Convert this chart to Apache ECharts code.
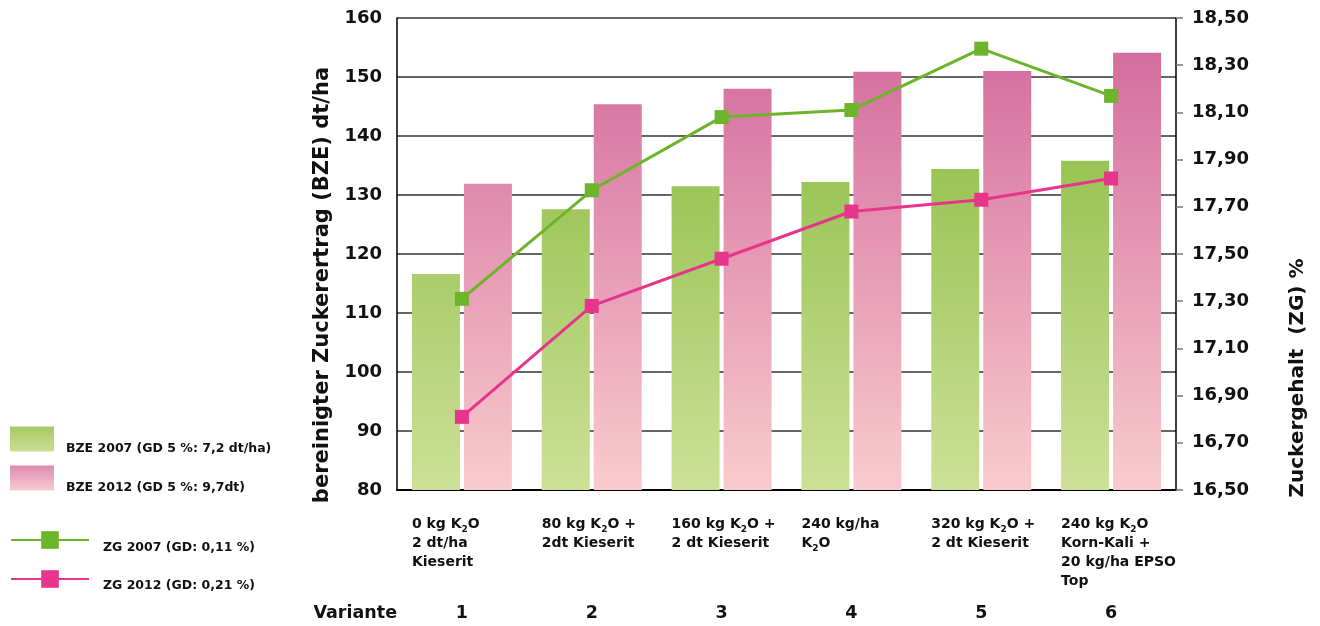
<!DOCTYPE html>
<html>
<head>
<meta charset="utf-8">
<script src="https://cdn.jsdelivr.net/npm/echarts@6.0.0/dist/echarts.min.js"></script>
<style>
html, body { margin: 0; padding: 0; background: #fff; }
#chart { width: 1320px; height: 626px; }
</style>
</head>
<body>
<div id="chart"></div>
<script>
// Varianten (x-Achse), "_2" = tiefgestellte 2
var categories = [
	'0 kg K_2O\n2 dt/ha\nKieserit',
	'80 kg K_2O +\n2dt Kieserit',
	'160 kg K_2O +\n2 dt Kieserit',
	'240 kg/ha\nK_2O',
	'320 kg K_2O +\n2 dt Kieserit',
	'240 kg K_2O\nKorn-Kali +\n20 kg/ha EPSO\nTop'
];
var varianten = ['1', '2', '3', '4', '5', '6'];

// bereinigter Zuckerertrag dt/ha
var bze2007 = [116.6, 127.6, 131.5, 132.2, 134.4, 135.8];
var bze2012 = [131.9, 145.4, 148.0, 150.9, 151.0, 154.1];
// Zuckergehalt %
var zg2007 = [17.31, 17.77, 18.08, 18.11, 18.37, 18.17];
var zg2012 = [16.81, 17.28, 17.48, 17.68, 17.73, 17.82];

var names = [
	'BZE 2007 (GD 5 %: 7,2 dt/ha)',
	'BZE 2012 (GD 5 %: 9,7dt)',
	'ZG 2007 (GD: 0,11 %)',
	'ZG 2012 (GD: 0,21 %)'
];

var font = 'DejaVu Sans';
var G = echarts.graphic.LinearGradient;

// jede Zeile links buendig als rich-Text
function catLabel(v) {
	return v.split('\n').map(function (l) {
		return l.split('_2').map(function (p) { return p ? '{t|' + p + '}' : ''; }).join('{s|2}');
	}).join('\n');
}

var e = echarts.init(document.getElementById('chart'));

// Legendentext etwas tiefer als das Symbol
function legendText(pad) {
	return {
		formatter: function (n) { return '{p|' + n + '}'; },
		textStyle: {
			rich: { p: { fontFamily: font, fontWeight: 'bold', color: '#111', fontSize: 12.5, lineHeight: 15, padding: pad } }
		}
	};
}

var a = {
	animation: false,
	grid: { left: 397, right: 144, top: 18, bottom: 136 },
	legend: [Object.assign({
		left: 10, top: 423, padding: 0, icon: 'rect', itemWidth: 44, itemHeight: 25,
		selectedMode: false, data: [names[0]],
		itemStyle: { color: new G(0, 0, 0, 1, [{ offset: 0, color: '#a6ca62' }, { offset: 1, color: '#cadf97' }]) }
	}, legendText([19, 0, 0, 7])), Object.assign({
		left: 10, top: 462, padding: 0, icon: 'rect', itemWidth: 44, itemHeight: 25,
		selectedMode: false, data: [names[1]],
		itemStyle: { color: new G(0, 0, 0, 1, [{ offset: 0, color: '#df8ab0' }, { offset: 1, color: '#f7ccd0' }]) }
	}, legendText([19, 0, 0, 7])), Object.assign({
		left: 10, top: 526, padding: 0, itemWidth: 78, itemHeight: 22,
		selectedMode: false, data: [names[2]]
	}, legendText([15, 0, 0, 9])), Object.assign({
		left: 10, top: 566, padding: 0, itemWidth: 78, itemHeight: 22,
		selectedMode: false, data: [names[3]]
	}, legendText([13, 0, 0, 9]))],
	xAxis: [{
		type: 'category',
		data: categories,
		axisLine: { lineStyle: { color: '#000', width: 2 } },
		axisTick: { inside: true, length: 11, lineStyle: { color: '#000', width: 1.5 } },
		axisLabel: {
			interval: 0, margin: 25, align: 'center', width: 100, overflow: 'none',
			fontFamily: font, fontWeight: 'bold', fontSize: 14, lineHeight: 19, color: '#111',
			formatter: catLabel,
			rich: {
				t: { align: 'left', fontFamily: font, fontWeight: 'bold', fontSize: 14, lineHeight: 19, color: '#111' },
				s: { align: 'left', fontFamily: font, fontWeight: 'bold', fontSize: 9, lineHeight: 10, verticalAlign: 'bottom', color: '#111' }
			}
		}
	}, {
		type: 'category',
		data: varianten,
		position: 'bottom',
		offset: 113,
		axisLine: { show: false },
		axisTick: { show: false },
		axisLabel: { margin: 0, fontFamily: font, fontWeight: 'bold', fontSize: 17.5, lineHeight: 20, color: '#111' },
		name: 'Variante',
		nameLocation: 'start',
		nameGap: 0,
		nameTextStyle: { fontFamily: font, fontWeight: 'bold', fontSize: 17.5, lineHeight: 20, color: '#111', verticalAlign: 'top' }
	}],
	yAxis: [{
		type: 'value',
		min: 80, max: 160, interval: 10,
		name: 'bereinigter Zuckerertrag (BZE) dt/ha',
		nameLocation: 'middle',
		nameGap: 61,
		nameTextStyle: { fontFamily: font, fontWeight: 'bold', fontSize: 21, color: '#111', padding: [0, 62, 0, 0] },
		axisLine: { show: true, lineStyle: { color: '#000', width: 1.5 } },
		axisTick: { show: false },
		axisLabel: { margin: 15, fontFamily: font, fontWeight: 'bold', fontSize: 18, color: '#111' },
		splitLine: { lineStyle: { color: '#333', width: 1.5 } }
	}, {
		type: 'value',
		min: 16.5, max: 18.5, interval: 0.2,
		name: 'Zuckergehalt  (ZG) %',
		nameLocation: 'middle',
		nameGap: 112,
		nameTextStyle: { fontFamily: font, fontWeight: 'bold', fontSize: 20, color: '#111', padding: [0, 248, 0, 0] },
		axisLine: { show: true, lineStyle: { color: '#000', width: 1.5 } },
		axisTick: { show: true, length: 7, lineStyle: { color: '#777', width: 1.5 } },
		axisLabel: {
			margin: 73, align: 'right', fontFamily: font, fontWeight: 'bold', fontSize: 18, color: '#111',
			formatter: function (v) { return v.toFixed(2).replace('.', ','); }
		},
		splitLine: { show: false }
	}],
	series: [{
		name: names[0],
		type: 'bar',
		barWidth: 48,
		barGap: '8.3%',
		itemStyle: { color: new G(0, 18, 0, 490, [{ offset: 0, color: '#80b737' }, { offset: 1, color: '#cde097' }], true) },
		data: bze2007
	}, {
		name: names[1],
		type: 'bar',
		barWidth: 48,
		barGap: '8.3%',
		itemStyle: { color: new G(0, 18, 0, 490, [{ offset: 0, color: '#d1669b' }, { offset: 1, color: '#f9cbcd' }], true) },
		data: bze2012
	}, {
		name: names[2],
		type: 'line',
		yAxisIndex: 1,
		symbol: 'rect',
		symbolSize: 14,
		lineStyle: { color: '#6cb42a', width: 3 },
		itemStyle: { color: '#6cb42a' },
		data: zg2007
	}, {
		name: names[3],
		type: 'line',
		yAxisIndex: 1,
		symbol: 'rect',
		symbolSize: 14,
		lineStyle: { color: '#e6358b', width: 3 },
		itemStyle: { color: '#e6358b' },
		data: zg2012
	}]
};
e.setOption(a);
window.addEventListener('resize', e.resize);
</script>
</body>
</html>
